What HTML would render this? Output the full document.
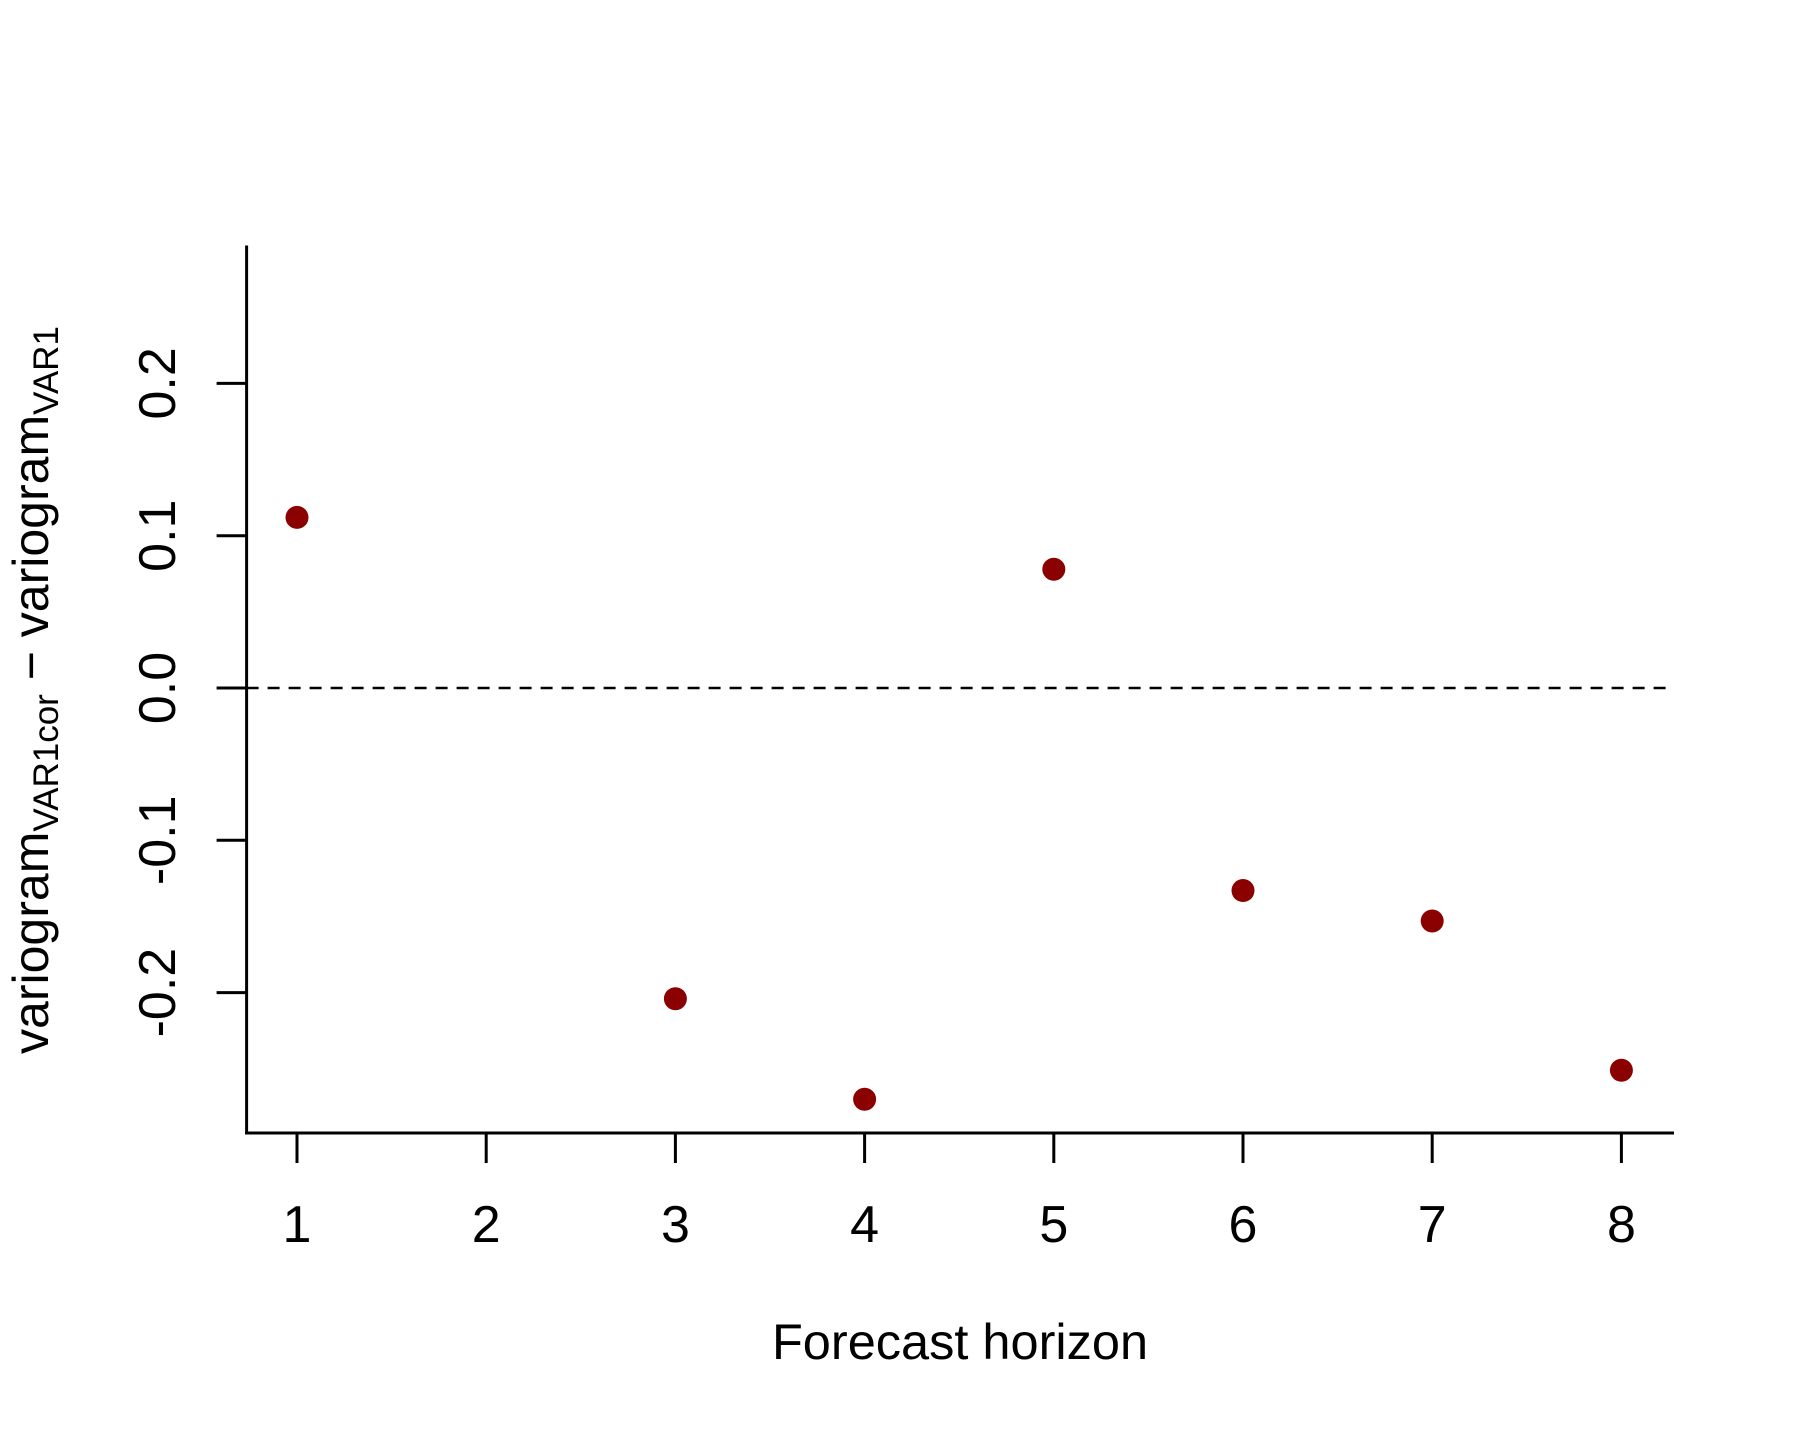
<!DOCTYPE html>
<html>
<head>
<meta charset="utf-8">
<style>
  html,body{margin:0;padding:0;background:#fff;}
  svg{display:block;}
  text{font-family:"Liberation Sans",Arial,sans-serif;fill:#000;}
</style>
</head>
<body>
<svg id="chart" width="1800" height="1440" viewBox="0 0 1800 1440" xmlns="http://www.w3.org/2000/svg">
  <rect width="1800" height="1440" fill="#fff"/>
  <g id="plot"></g>
  <text x="960" y="1359" font-size="50.5" text-anchor="middle">Forecast horizon</text>
  <text transform="translate(48,690) rotate(-90)" font-size="50" text-anchor="middle">variogram<tspan font-size="35" dy="10">VAR1cor</tspan><tspan dy="-10"> − variogram</tspan><tspan font-size="35" dy="10">VAR1</tspan></text>
</svg>
<script>
const horizons = [1, 2, 3, 4, 5, 6, 7, 8];
const diffValues = [0.112, null, -0.204, -0.270, 0.078, -0.133, -0.153, -0.251];
const xTickValues = [1, 2, 3, 4, 5, 6, 7, 8];
const xTickLabels = ["1", "2", "3", "4", "5", "6", "7", "8"];
const yTickValues = [-0.2, -0.1, 0.0, 0.1, 0.2];
const yTickLabels = ["-0.2", "-0.1", "0.0", "0.1", "0.2"];

const NS = "http://www.w3.org/2000/svg";
const plot = document.getElementById('plot');
function xScale(v){ return 297 + (v - 1) * 189.2; }
function yScale(v){ return 688 - v * 1523; }
const axisLeft = 246.6, axisBottom = 1133, axisTop = 245.5, axisRight = 1674;

function mk(tag, attrs){
  const el = document.createElementNS(NS, tag);
  for (const k in attrs) el.setAttribute(k, attrs[k]);
  plot.appendChild(el);
  return el;
}

let el = mk('line', {x1: axisLeft, y1: axisTop, x2: axisLeft, y2: axisBottom + 1.5, stroke: '#000', 'stroke-width': 3});


el = mk('line', {x1: axisLeft - 1.5, y1: axisBottom, x2: axisRight, y2: axisBottom, stroke: '#000', 'stroke-width': 3});



el = mk('line', {x1: axisLeft, y1: yScale(0), x2: axisRight, y2: yScale(0), stroke: '#000', 'stroke-width': 2.5, 'stroke-dasharray': '12 9'});



xTickValues.forEach((v, i) => {
  const x = xScale(v);
  let t = mk('line', {x1: x, y1: axisBottom, x2: x, y2: axisBottom + 30, stroke: '#000', 'stroke-width': 3});
  
  
  let lab = mk('text', {x: x, y: 1242, 'font-size': 52, 'text-anchor': 'middle'});
  lab.textContent = xTickLabels[i];
  
  
});

yTickValues.forEach((v, i) => {
  const y = yScale(v);
  let t = mk('line', {x1: axisLeft - 30, y1: y, x2: axisLeft, y2: y, stroke: '#000', 'stroke-width': 3});
  
  
  let lab = mk('text', {x: 0, y: 0, 'font-size': 52, 'text-anchor': 'middle', transform: 'translate(175,' + y + ') rotate(-90)'});
  lab.textContent = yTickLabels[i];
  
  
});

horizons.forEach((h, i) => {
  const v = diffValues[i];
  if (v === null) return;
  let c = mk('circle', {cx: xScale(h), cy: yScale(v), r: 11.5, fill: '#8B0000'});
  
  
});
</script>
</body>
</html>
